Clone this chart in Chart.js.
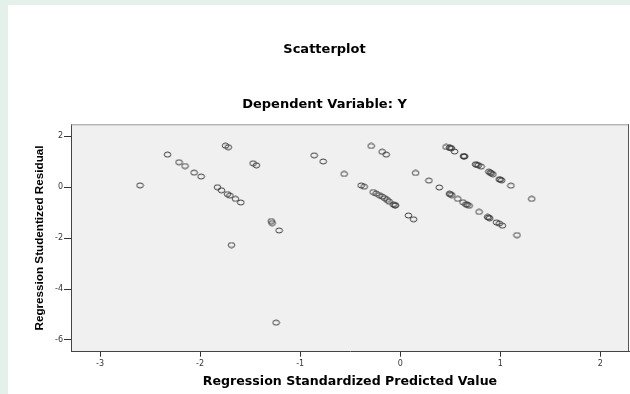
<!DOCTYPE html>
<html>
<head>
<meta charset="utf-8">
<script src="https://cdn.jsdelivr.net/npm/chart.js@4.4.1/dist/chart.umd.min.js"></script>
<style>
  html, body { margin: 0; padding: 0; width: 630px; height: 394px; overflow: hidden; background: #e3f1ea; }
  #card { position: absolute; left: 8px; top: 5px; width: 622px; height: 389px; background: #ffffff; }
  #plot { position: absolute; left: 0; top: 0; }
</style>
</head>
<body>
<div id="card"></div>
<canvas id="plot" width="630" height="394"></canvas>
<script>
// Standardized predicted values (x) and studentized residuals (y), one entry per case
const predicted = [
  -2.60, -2.325, -2.21, -2.15, -2.06, -1.99,
  -1.826, -1.786, -1.726, -1.702, -1.646, -1.593,
  -1.746, -1.718, -1.47, -1.437,
  -1.288, -1.28, -1.21, -1.686, -1.24,
  -0.86, -0.77, -0.56, -0.29, -0.18, -0.14,
  -0.39, -0.36, -0.27, -0.24, -0.21, -0.18, -0.155, -0.13, -0.11, -0.07, -0.05, -0.05,
  0.082, 0.134, 0.154, 0.287, 0.391,
  0.459, 0.492, 0.50, 0.512, 0.544, 0.632, 0.644, 0.638,
  0.753, 0.767, 0.781, 0.809, 0.886, 0.90, 0.91, 0.926,
  0.99, 1.00, 1.014, 1.107, 1.315,
  0.492, 0.50, 0.516, 0.576, 0.628, 0.657, 0.67, 0.689,
  0.789, 0.873, 0.885, 0.894, 0.962, 0.99, 1.022, 1.167
];
const residual = [
  0.07, 1.28, 0.98, 0.83, 0.57, 0.42,
  0.00, -0.12, -0.27, -0.33, -0.46, -0.60,
  1.63, 1.57, 0.94, 0.86,
  -1.33, -1.41, -1.70, -2.27, -5.32,
  1.25, 1.01, 0.52, 1.62, 1.39, 1.28,
  0.07, 0.02, -0.19, -0.25, -0.31, -0.37, -0.43, -0.50, -0.57, -0.67, -0.72, -0.70,
  -1.11, -1.26, 0.56, 0.26, -0.01,
  1.58, 1.55, 1.54, 1.53, 1.40, 1.22, 1.21, 1.21,
  0.90, 0.88, 0.86, 0.81, 0.61, 0.57, 0.55, 0.51,
  0.31, 0.30, 0.27, 0.06, -0.46,
  -0.26, -0.27, -0.31, -0.46, -0.59, -0.67, -0.69, -0.73,
  -0.97, -1.17, -1.19, -1.22, -1.38, -1.43, -1.51, -1.88
];
const xTicks = [-3, -2, -1, 0, 1, 2];
const yTicks = [-6, -4, -2, 0, 2];

const points = predicted.map((x, i) => ({ x: x, y: residual[i] }));

// Open marker: a thin slightly flattened ring
function makeRing() {
  const c = document.createElement('canvas');
  c.width = 9; c.height = 7;
  const g = c.getContext('2d');
  g.strokeStyle = '#383838';
  g.lineWidth = 1;
  g.beginPath();
  g.ellipse(4.5, 3.5, 3.3, 2.5, 0, 0, Math.PI * 2);
  g.stroke();
  return c;
}

// Gray plotting field with a frame on the top and right edges
const plotFrame = {
  id: 'plotFrame',
  beforeDraw(chart) {
    const a = chart.chartArea, ctx = chart.ctx;
    ctx.save();
    ctx.fillStyle = '#f0f0f0';
    ctx.fillRect(a.left, a.top, a.right - a.left, a.bottom - a.top);
    ctx.restore();
  },
  afterDraw(chart) {
    const a = chart.chartArea, ctx = chart.ctx;
    ctx.save();
    ctx.lineWidth = 1;
    ctx.strokeStyle = '#9a9a9a';
    ctx.beginPath();
    ctx.moveTo(a.left, a.top + 0.5);
    ctx.lineTo(a.right, a.top + 0.5);
    ctx.stroke();
    ctx.strokeStyle = '#555555';
    ctx.beginPath();
    ctx.moveTo(a.right - 0.5, a.top);
    ctx.lineTo(a.right - 0.5, a.bottom);
    ctx.stroke();
    ctx.restore();
  }
};

const tickFont = { family: 'DejaVu Sans', size: 8 };

new Chart(document.getElementById('plot'), {
  type: 'scatter',
  data: {
    datasets: [{
      data: points,
      pointStyle: makeRing(),
      pointRadius: 4,
      pointHoverRadius: 4
    }]
  },
  options: {
    responsive: false,
    animation: false,
    devicePixelRatio: 1,
    events: [],
    layout: { autoPadding: false, padding: { left: 20, right: 1, top: 0, bottom: 0 } },
    plugins: {
      legend: { display: false },
      tooltip: { enabled: false },
      title: {
        display: true,
        text: 'Scatterplot',
        color: '#000000',
        font: { family: 'DejaVu Sans', size: 13, weight: 'bold' },
        padding: { top: 42.2, bottom: 0 }
      },
      subtitle: {
        display: true,
        text: 'Dependent Variable: Y',
        color: '#000000',
        font: { family: 'DejaVu Sans', size: 13, weight: 'bold' },
        padding: { top: 39.4, bottom: 11.5 }
      }
    },
    scales: {
      x: {
        type: 'linear',
        min: -3.29,
        max: 2.287,
        afterBuildTicks: s => { s.ticks = xTicks.map(v => ({ value: v })); },
        afterFit: s => { s.height = 42.3; s.paddingLeft = 0; s.paddingRight = 0; },
        border: { display: true, color: '#444444', width: 1 },
        grid: { drawOnChartArea: false, drawTicks: true, tickLength: 5, tickColor: '#333333' },
        ticks: { color: '#333333', font: tickFont, padding: 2, maxRotation: 0 },
        title: {
          display: true,
          text: 'Regression Standardized Predicted Value',
          color: '#000000',
          font: { family: 'DejaVu Sans', size: 12.6, weight: 'bold' },
          padding: { top: 0, bottom: 4.8 }
        }
      },
      y: {
        type: 'linear',
        min: -6.46,
        max: 2.47,
        afterBuildTicks: s => { s.ticks = yTicks.map(v => ({ value: v })); },
        afterFit: s => { s.width = 51; s.paddingTop = 0; s.paddingBottom = 0; },
        border: { display: true, color: '#444444', width: 1 },
        grid: { drawOnChartArea: false, drawTicks: true, tickLength: 7, tickColor: '#333333' },
        ticks: { color: '#333333', font: tickFont, padding: 1 },
        title: {
          display: true,
          text: 'Regression Studentized Residual',
          color: '#000000',
          font: { family: 'Liberation Sans', size: 11.7, weight: 'bold' },
          padding: { top: 13, bottom: 0 }
        }
      }
    }
  },
  plugins: [plotFrame]
});
</script>
</body>
</html>
